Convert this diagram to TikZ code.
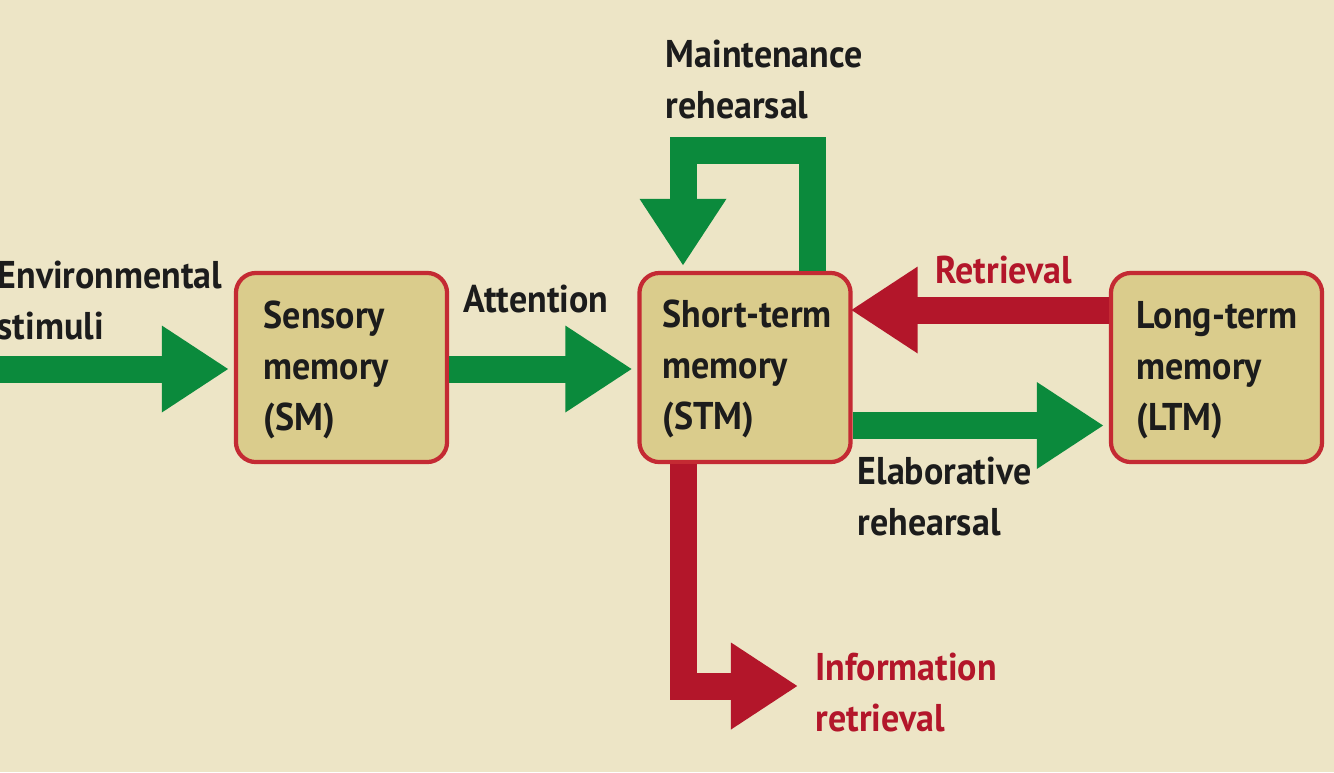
\documentclass[tikz,border=0pt]{standalone}
\usepackage{fontspec}
\setmainfont{PT Sans}[FakeStretch=0.93]
\usetikzlibrary{arrows.meta,calc}
\definecolor{bg}{HTML}{EDE5C6}
\definecolor{boxfill}{HTML}{DACC8C}
\definecolor{boxred}{HTML}{C42A33}
\definecolor{agreen}{HTML}{0B8A3C}
\definecolor{ared}{HTML}{B3162A}
\definecolor{ink}{HTML}{1C1C1C}
\tikzset{
  memb/.style={draw=boxred, fill=boxfill, line width=1.2pt, rounded corners=0.2cm,
    minimum width=2.11cm, minimum height=1.89cm, inner sep=0pt},
  lbl/.style={align=left, inner sep=0pt, text=ink},
  rlbl/.style={align=left, inner sep=0pt, text=ared},
  bigarrow/.style={line width=0.27cm, miter limit=10, -{Triangle[length=0.67cm,width=0.82cm]}},
  garrow/.style={bigarrow, draw=agreen},
  rarrow/.style={bigarrow, draw=ared},
}
\begin{document}
\begin{tikzpicture}[x=0.01cm,y=-0.01cm,font=\fontsize{11}{14.5}\selectfont\bfseries]
\fill[bg] (0,0) rectangle (1334,772);
\useasboundingbox (0,0) rectangle (1334,772);

\node[memb] (sm)  at (341.5,367.5) {};
\node[memb] (stm) at (745,367.5) {};
\node[memb] (ltm) at (1216.5,367.5) {};

% multi-line nodes: base anchor = baseline of last line
\node[lbl, anchor=base west] (smt)  at (263,430)  {Sensory\\memory\\(SM)};
\node[lbl, anchor=base west] (stmt) at (662,429)  {Short-term\\memory\\(STM)};
\node[lbl, anchor=base west] (ltmt) at (1136,430) {Long-term\\memory\\(LTM)};

\node[lbl, anchor=base west] (env)  at (-3,339) {Environmental\\stimuli};
\node[lbl, anchor=base west] (att)  at (463,312) {Attention};
\node[lbl, anchor=base west] (mr)   at (665,118)  {Maintenance\\rehearsal};
\node[rlbl, anchor=base west] (ret) at (935,283) {Retrieval};
\node[lbl, anchor=base west] (er)   at (857,535) {Elaborative\\rehearsal};
\node[rlbl, anchor=base west] (ir)  at (815,731) {Information\\retrieval};

\coordinate (envstart) at (-10,369);
\coordinate (mtop) at (812,150);
\coordinate (mleft) at (683,150);
\coordinate (irend) at (798,686);

% environmental stimuli -> SM
\draw[garrow, shorten >=0.05cm] (envstart) -- (sm.west |- envstart);
% attention
\draw[garrow, shorten >=0.05cm] (sm.east |- envstart) -- (stm.west |- envstart);
% maintenance rehearsal loop
\draw[garrow, shorten >=0.05cm] (stm.north -| mtop) -- (mtop) -- (mleft) -- (stm.north -| mleft);
% retrieval
\draw[rarrow, shorten >=-0.02cm] ($(ltm.west)+(0,-57.5)$) -- ($(stm.east)+(0,-57.5)$);
% elaborative rehearsal
\draw[garrow, shorten >=0.05cm] ($(stm.east)+(0,58)$) -- ($(ltm.west)+(0,58)$);
% information retrieval
\draw[rarrow] (stm.south -| mleft) -- (mleft |- irend) -- (irend);
\end{tikzpicture}
\end{document}
